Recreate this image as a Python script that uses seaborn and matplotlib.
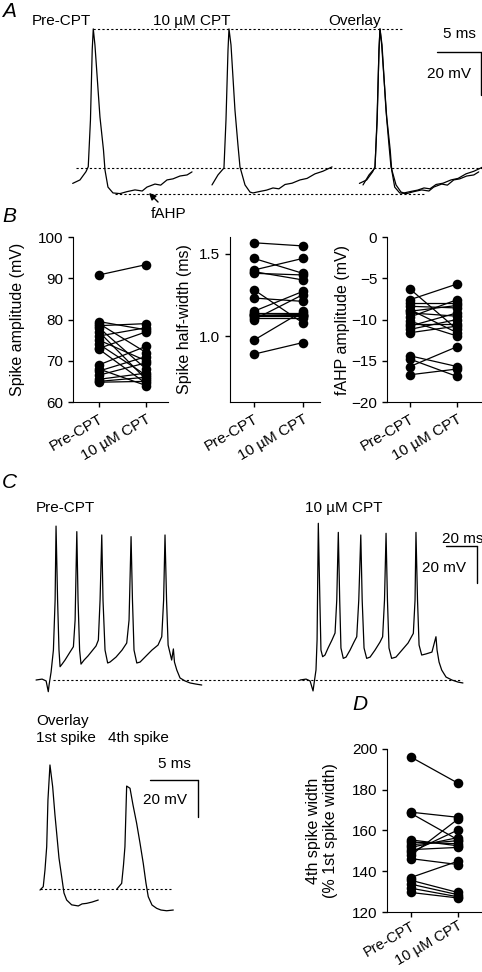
import numpy as np
import pandas as pd
import matplotlib
matplotlib.use("Agg")
import matplotlib.pyplot as plt
import seaborn as sns

# ---------------- data ----------------
# Panel A: single spikes (time ms, membrane potential mV)
a_pre_t = [0, 0.83, 1.51, 1.77, 2.02, 2.22, 2.34, 2.53, 3.10, 3.50, 3.67, 4.01, 4.58, 5.38, 6.17, 7.08, 7.9, 8.44, 9.35, 10.0, 10.72, 11.4, 12.19, 13.0, 13.56]
a_pre_v = [-62.1, -60.5, -56.7, -54.4, -32.9, -0.6, 9.1, 1.7, -31.5, -46.7, -55.9, -63.8, -66.5, -66.8, -65.9, -65.1, -65.6, -63.8, -62.4, -62.9, -60.5, -60.0, -58.7, -58.2, -56.8]
a_cpt_t = [0, 0.68, 1.36, 1.59, 1.82, 1.93, 2.16, 2.61, 2.95, 3.18, 3.75, 4.32, 4.66, 5.45, 6.2, 6.93, 7.6, 8.30, 9.1, 10.0, 10.8, 11.7, 12.6, 13.64]
a_cpt_v = [-62.8, -58.2, -55.0, -32.9, -0.6, 9.1, 1.7, -28.3, -44.4, -54.5, -62.8, -66.1, -66.5, -65.8, -65.2, -64.2, -64.6, -62.6, -62.0, -60.5, -59.8, -57.7, -56.5, -54.5]

# Panel B: paired measurements
amp_pre = [90.8, 79.5, 79.0, 78.5, 78.0, 77.0, 76.0, 75.0, 74.0, 73.0, 72.8, 69.0, 68.0, 67.5, 66.5, 65.5, 65.0, 64.8]
amp_cpt = [93.3, 77.5, 72.0, 79.0, 68.0, 65.5, 78.0, 70.0, 66.5, 77.0, 64.5, 73.5, 64.0, 71.0, 69.5, 67.0, 66.0, 65.0]
hw_pre = [1.565, 1.47, 1.40, 1.39, 1.38, 1.28, 1.23, 1.15, 1.14, 1.135, 1.13, 1.125, 1.12, 1.11, 1.10, 0.975, 0.89]
hw_cpt = [1.546, 1.38, 1.47, 1.34, 1.37, 1.08, 1.21, 1.27, 1.14, 1.13, 1.13, 1.12, 1.12, 1.11, 1.25, 1.15, 0.96]
fahp_pre = [-6.3, -7.6, -8.0, -8.4, -8.8, -9.0, -9.2, -9.7, -10.2, -10.5, -10.8, -11.2, -11.6, -14.4, -14.8, -15.7, -16.7]
fahp_cpt = [-11.2, -5.7, -8.0, -8.6, -11.6, -8.3, -9.6, -7.6, -12.0, -10.5, -9.2, -10.0, -10.8, -15.7, -16.9, -13.3, -16.0]

# Panel C: spike trains
c_pre_t = [0, 3.9, 6.5, 7.9, 8.4, 9.7, 11.2, 12.3, 12.9, 13.9, 14.8, 15.5, 16.8, 18.7, 21.9, 24.1, 25.2, 26.3, 27.1, 28.1, 29.0,
           31.0, 33.5, 36.1, 38.7, 40.2, 41.3, 42.4, 43.2, 44.5, 46.2, 47.7, 51.6, 55.5, 58.5, 60.0, 61.3, 62.2, 63.2, 65.0,
           67.1, 71.0, 74.8, 78.7, 81.1, 82.3, 83.2, 84.2, 85.2, 87.5, 88.6, 89.3, 90.8, 92.9, 96.1, 99.4, 103.2, 106.9]
c_pre_v = [-60, -59.5, -60.5, -66.3, -62.7, -55.7, -43.8, -16.8, 23.2, -16.8, -43.8, -52.8, -51.4, -49.2, -44.9, -42.0, -27.6, 20.2, -16.8, -43.8, -51.4,
           -49.2, -47.0, -44.3, -41.6, -38.4, -16.8, 18.4, -16.8, -43.8, -50.8, -50.3, -47.6, -43.8, -40.0, -27.6, 17.5, -16.8, -43.8, -50.8,
           -50.3, -47.0, -43.8, -41.1, -36.6, -16.8, 18.4, -16.8, -41.1, -49.2, -43.2, -50.3, -54.6, -58.9, -60.5, -61.6, -62.2, -62.7]
c_cpt_t = [0, 3.9, 6.5, 8.4, 9.0, 10.3, 11.0, 11.8, 12.8, 13.5, 14.6, 16.1, 18.1, 20.6, 22.6, 23.7, 24.7, 25.6, 26.4, 27.9,
           29.7, 32.3, 34.8, 36.6, 37.9, 39.2, 40.1, 41.3, 43.0, 45.2, 48.4, 51.6, 53.3, 54.5, 55.5, 56.4, 57.4, 59.1,
           61.9, 65.8, 69.7, 73.1, 74.2, 74.8, 75.8, 76.8, 78.5, 81.3, 85.1, 87.7, 88.4, 89.7, 91.4, 94.2, 98.0, 101.9, 105.1]
c_cpt_v = [-60, -59.5, -60.5, -65.9, -62.2, -54.6, -38.4, 24.7, -16.8, -43.8, -47.4, -46.5, -42.7, -38.4, -34.6, -16.8, 19.8, -16.8, -42.7, -48.3,
           -47.6, -43.8, -39.5, -36.6, -16.8, 18.4, -16.8, -42.7, -48.3, -47.6, -43.8, -39.5, -36.6, -16.8, 19.3, -16.8, -42.7, -48.3,
           -47.6, -43.8, -40.0, -34.8, -16.8, 19.8, -16.8, -41.1, -46.5, -45.9, -44.9, -36.6, -43.8, -50.3, -54.6, -58.4, -60.0, -61.1, -61.6]

# Panel C overlay: 1st and 4th spike
s1_t = [0, 0.34, 0.52, 0.70, 0.83, 1.04, 1.32, 1.56, 1.74, 1.98, 2.26, 2.50, 2.78, 3.30, 3.99, 4.38, 4.86, 5.42, 6.07]
s1_v = [-60.4, -58.6, -49.6, -37.0, -11.7, 7.2, -4.5, -19.8, -29.7, -43.1, -53.2, -62.0, -65.8, -68.4, -69.0, -67.9, -67.6, -66.9, -65.8]
s4_t = [0, 0.52, 0.71, 0.86, 0.97, 1.04, 1.39, 1.70, 2.08, 2.43, 2.77, 3.05, 3.29, 3.68, 4.17, 4.61, 5.21, 5.90]
s4_v = [-60.0, -56.8, -46.9, -37.0, -17.1, -4.2, -5.4, -14.4, -24.3, -35.0, -46.0, -56.6, -64.0, -68.5, -70.3, -71.2, -71.6, -71.2]

# Panel D
w_pre = [196.1, 169.0, 168.5, 155.4, 154.3, 153.0, 151.7, 150.6, 149.3, 147.8, 146.2, 136.9, 135.6, 133.7, 131.7, 129.6]
w_cpt = [183.3, 166.5, 155.5, 152.5, 153.5, 155.0, 156.5, 151.7, 160.2, 165.5, 143.3, 144.9, 129.6, 128.5, 127.5, 126.9]

cond_labels = ["Pre-CPT", "10 µM CPT"]

# ---------------- style ----------------
sns.set_style("ticks", rc={"axes.edgecolor": "k", "xtick.color": "k", "ytick.color": "k",
                           "text.color": "k", "axes.labelcolor": "k", "axes.linewidth": 1.0})
plt.rcParams["font.family"] = ["Liberation Sans", "DejaVu Sans"]
plt.rcParams["font.size"] = 11
plt.rcParams["xtick.labelsize"] = 11
plt.rcParams["ytick.labelsize"] = 11
plt.rcParams["axes.labelsize"] = 11.5

W, H = 482, 972
fig = plt.figure(figsize=(W / 100, H / 100), dpi=100)


def box(x0, y0, x1, y1):
    return fig.add_axes([x0 / W, 1 - y1 / H, (x1 - x0) / W, (y1 - y0) / H])


def ftext(x, y, s, **kw):
    kw.setdefault("va", "baseline")
    kw.setdefault("fontsize", 11)
    fig.text(x / W, 1 - y / H, s, **kw)


def trace(ax, t, v, t0, lw=0.9):
    sns.lineplot(x=np.asarray(t) + t0, y=np.asarray(v), ax=ax, color="k", lw=lw,
                 sort=False, estimator=None)


DOT = (0, (2, 2))

# ---------------- Panel A ----------------
axA = box(60, 20, 482, 200)
axA.set_xlim(0, 47.95)
axA.set_ylim(-69.75, 13.2)
axA.set_axis_off()
trace(axA, a_pre_t, a_pre_v, 1.44)
trace(axA, a_cpt_t, a_cpt_v, 17.27)
pk = 36.36
trace(axA, a_pre_t, a_pre_v, pk - a_pre_t[int(np.argmax(a_pre_v))])
trace(axA, a_cpt_t, a_cpt_v, pk - a_cpt_t[int(np.argmax(a_cpt_v))])
axA.hlines(max(a_pre_v), 3.75, 39.0, colors="k", linestyles=DOT, lw=0.8)
axA.hlines(-55.0, 1.82, 47.95, colors="k", linestyles=DOT, lw=0.8)
axA.hlines(-67.0, 6.25, 41.5, colors="k", linestyles=DOT, lw=0.8)
axA.plot([42.84, 47.84], [-1.4, -1.4], color="k", lw=1, clip_on=False)
axA.plot([47.84, 47.84], [-1.4, -21.4], color="k", lw=1, clip_on=False)

fig.text(2 / W, 1 - 2 / H, "A", fontsize=15, style="italic", va="top", ha="left")
ftext(32, 25, "Pre-CPT")
ftext(153, 25, "10 µM CPT")
ftext(328, 25, "Overlay")
ftext(443, 38, "5 ms")
ftext(427, 78, "20 mV")
fig.text(151 / W, 1 - 218 / H, "fAHP", fontsize=11, va="baseline")
fig.add_artist(matplotlib.patches.FancyArrowPatch(
    (160 / W, 1 - 204 / H), (147 / W, 1 - 191 / H), transform=fig.transFigure,
    arrowstyle="-|>", mutation_scale=10, color="k", lw=1))

# ---------------- Panel B ----------------
fig.text(2 / W, 1 - 207 / H, "B", fontsize=15, style="italic", va="top", ha="left")


def paired(ax, pre, post, ylim, yticks, ylabel, xlim, lab_x, xpad=3.5, xfs=11):
    n = len(pre)
    df = pd.DataFrame({"id": list(range(n)) * 2,
                       "cond": [0] * n + [1] * n,
                       "value": list(pre) + list(post)})
    sns.lineplot(data=df, x="cond", y="value", units="id", estimator=None,
                 color="k", lw=0.9, ax=ax)
    sns.scatterplot(data=df, x="cond", y="value", color="k", s=48,
                    linewidth=0, ax=ax, zorder=3, clip_on=False)
    ax.set_xlim(*xlim)
    ax.set_ylim(*ylim)
    ax.set_yticks(yticks)
    ax.set_xticks([0, 1])
    ax.set_xticklabels(cond_labels, rotation=30, ha="right", rotation_mode="anchor",
                       fontsize=xfs)
    ax.set_xlabel("")
    ax.set_ylabel(ylabel)
    ax.yaxis.set_label_coords(lab_x, 0.5)
    sns.despine(ax=ax)
    ax.tick_params(length=3.5, width=1)
    ax.tick_params(axis="x", pad=xpad)


ax1 = box(73, 237, 168, 402)
paired(ax1, amp_pre, amp_cpt, (60, 100), [60, 70, 80, 90, 100], "Spike amplitude (mV)",
       (-0.553, 1.468), (25 - 73) / 95)
ax2 = box(230, 237, 320, 402)
paired(ax2, hw_pre, hw_cpt, (0.6, 1.6), [1.0, 1.5], "Spike half-width (ms)",
       (-0.493, 1.355), (192 - 230) / 90)
ax2.set_yticklabels(["1.0", "1.5"])
ax3 = box(387, 237, 481, 402)
paired(ax3, fahp_pre, fahp_cpt, (-20, 0), [-20, -15, -10, -5, 0], "fAHP amplitude (mV)",
       (-0.489, 1.51), (350 - 387) / 94)

# ---------------- Panel C ----------------
fig.text(2 / W, 1 - 473 / H, "C", fontsize=15, style="italic", va="top", ha="left")
ftext(36, 512, "Pre-CPT")
ftext(305, 512, "10 µM CPT")
axC = box(30, 500, 482, 700)
axC.set_xlim(0, 291.6)
axC.set_ylim(-70.8, 37.3)
axC.set_axis_off()
trace(axC, c_pre_t, c_pre_v, 3.9)
trace(axC, c_cpt_t, c_cpt_v, 174.2)
axC.hlines(-60, 14.8, 278.6, colors="k", linestyles=DOT, lw=0.8)
axC.plot([268.3, 288.3], [12.4, 12.4], color="k", lw=1, clip_on=False)
axC.plot([288.3, 288.3], [12.4, -7.6], color="k", lw=1, clip_on=False)
ftext(442, 543, "20 ms")
ftext(422, 572, "20 mV")

# overlay sub-panel
ftext(36, 725, "Overlay")
ftext(36, 742, "1st spike")
ftext(108, 742, "4th spike")
axO = box(30, 740, 250, 930)
axO.set_xlim(0, 22.92)
axO.set_ylim(-82.0, 20.7)
axO.set_axis_off()
trace(axO, s1_t, s1_v, 1.04)
trace(axO, s4_t, s4_v, 9.03)
axO.hlines(-60, 1.04, 14.7, colors="k", linestyles=DOT, lw=0.8)
axO.plot([12.5, 17.5], [-0.9, -0.9], color="k", lw=1, clip_on=False)
axO.plot([17.5, 17.5], [-0.9, -20.9], color="k", lw=1, clip_on=False)
ftext(158, 768, "5 ms")
ftext(143, 804, "20 mV")

# ---------------- Panel D ----------------
fig.text(352 / W, 1 - 695 / H, "D", fontsize=15, style="italic", va="top", ha="left")
axD = box(387, 749, 482, 912)
paired(axD, w_pre, w_cpt, (120, 200), [120, 140, 160, 180, 200],
       "4th spike width\n(% 1st spike width)", (-0.504, 1.517), (338 - 387) / 95,
       xpad=1.5, xfs=10.5)

fig.savefig("out.png", dpi=100)
